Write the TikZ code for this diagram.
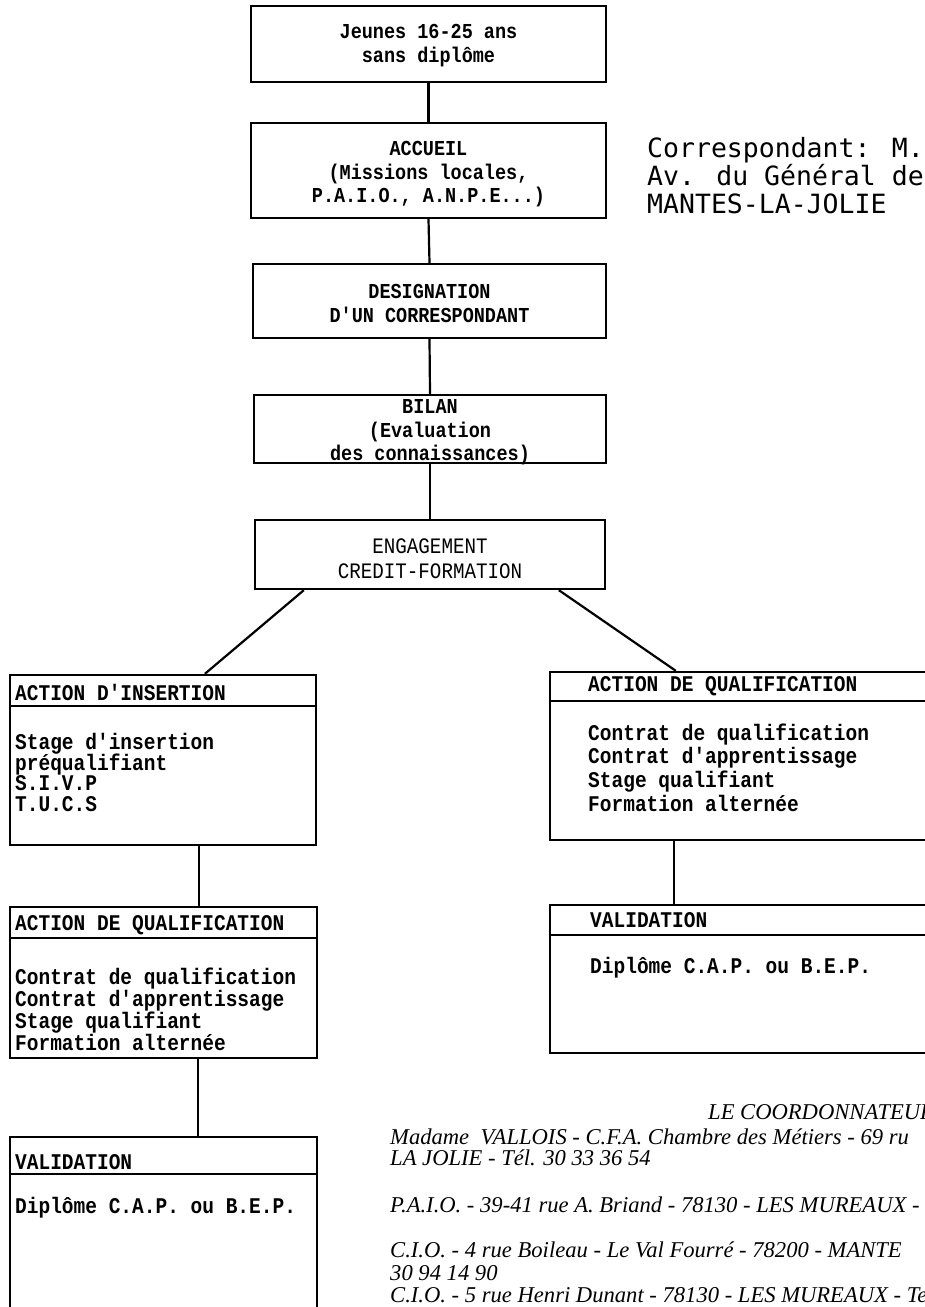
\documentclass[tikz,border=0pt]{standalone}
\usepackage{fontspec}
\usepackage{graphicx}
\usetikzlibrary{calc}
\newfontfamily\boxfont{Liberation Mono}
\newfontfamily\termfont{DejaVu Sans Mono}
\newfontfamily\addrfont{Liberation Serif}
\newcommand\st[1]{\scalebox{1}[1.15]{#1}}
\AtBeginDocument{\lineskiplimit=-100pt\relax}
\begin{document}
\begin{tikzpicture}[x=1pt,y=1pt,
  box/.style={draw=black, line width=2.3pt, inner sep=0pt, rectangle},
  conn/.style={line width=2.2pt},
  sepline/.style={line width=2pt},
  toptext/.style={align=center, inner sep=0pt, font=\boxfont\bfseries\fontsize{18.5}{23.5}\selectfont},
  engtext/.style={align=center, inner sep=0pt, font=\boxfont\fontsize{19.2}{25}\selectfont},
  headtext/.style={anchor=west, inner sep=0pt, font=\boxfont\bfseries\fontsize{19.5}{20}\selectfont},
  listtext/.style={align=left, anchor=west, inner sep=0pt, font=\boxfont\bfseries\fontsize{19.5}{#1}\selectfont},
  termtext/.style={align=left, anchor=west, inner sep=0pt, font=\termfont\fontsize{26.5}{28}\selectfont},
  addrtext/.style={anchor=west, inner sep=0pt, font=\addrfont\itshape\fontsize{22.6}{22}\selectfont}
]
\useasboundingbox (0,0) rectangle (925,-1307);
\clip (0,0) rectangle (925,-1307);
\fill[white] (0,0) rectangle (925,-1307);

% top column boxes
\node[box, minimum width=355pt, minimum height=76pt] (b1) at (428.5,-44) {};
\node[toptext] (t1) at (428.5,-45.5) {\st{Jeunes 16-25 ans}\\\st{sans diplôme}};

\node[box, minimum width=355pt, minimum height=95pt] (b2) at (428.5,-170.5) {};
\node[toptext] (t2) at (428.5,-174.5) {\st{ACCUEIL}\\\st{(Missions locales,}\\\st{P.A.I.O., A.N.P.E...)}};

\node[box, minimum width=353pt, minimum height=74pt] (b3) at (429.5,-301) {};
\node[toptext] (t3) at (429.5,-303.5) {\st{DESIGNATION}\\\st{D'UN CORRESPONDANT}};

\node[box, minimum width=352pt, minimum height=68pt] (b4) at (430,-429) {};
\node[toptext] (t4) at (430,-432.5) {\st{BILAN}\\\st{(Evaluation}\\\st{des connaissances)}};

\node[box, minimum width=350pt, minimum height=69pt] (b5) at (430,-554.5) {};
\node[engtext] (t5) at (430,-558.5) {\st{ENGAGEMENT}\\\st{CREDIT-FORMATION}};

\draw[conn] (b1.south) -- (b2.north);
\draw[conn] (b2.south) -- (b3.north);
\draw[conn] (b3.south) -- (b4.north);
\draw[conn] (b4.south) -- (b5.north);

% correspondant text
\node[termtext] (corr) at (647,-176) {Correspondant: M.\\Av. du Général de\\MANTES-LA-JOLIE};

% left column
\node[box, minimum width=306pt, minimum height=170pt] (L1) at (163,-760) {};
\draw[sepline] ($(L1.north west)+(0,-32)$) -- ($(L1.north east)+(0,-32)$);
\node[headtext] (L1h) at (15,-692) {\st{ACTION D'INSERTION}};
\node[listtext=20.4] (L1i) at (15,-772.5) {\st{Stage d'insertion}\\\st{préqualifiant}\\\st{S.I.V.P}\\\st{T.U.C.S}};

\node[box, minimum width=307pt, minimum height=151pt] (L2) at (163.5,-982.5) {};
\draw[sepline] ($(L2.north west)+(0,-32)$) -- ($(L2.north east)+(0,-32)$);
\node[headtext] (L2h) at (15,-925) {\st{ACTION DE QUALIFICATION}};
\node[listtext=22] (L2i) at (15,-1009.5) {\st{Contrat de qualification}\\\st{Contrat d'apprentissage}\\\st{Stage qualifiant}\\\st{Formation alternée}};

\node[box, minimum width=307pt, minimum height=203pt] (L3) at (163.5,-1238.5) {};
\draw[sepline] ($(L3.north west)+(0,-38)$) -- ($(L3.north east)+(0,-38)$);
\node[headtext] (L3h) at (15,-1162) {\st{VALIDATION}};
\node[headtext] (L3i) at (15,-1208) {\st{Diplôme C.A.P. ou B.E.P.}};

\draw[conn] ($(L1.south west)+(190,0)$) -- ($(L2.north west)+(190,0)$);
\draw[conn] ($(L2.south west)+(189,0)$) -- ($(L3.north west)+(189,0)$);

% right column
\node[box, minimum width=410pt, minimum height=168pt] (R1) at (755,-756) {};
\draw[sepline] ($(R1.north west)+(0,-30)$) -- ($(R1.north east)+(0,-30)$);
\node[headtext] (R1h) at (588,-686) {\st{ACTION DE QUALIFICATION}};
\node[listtext=23.6] (R1i) at (588,-767.5) {\st{Contrat de qualification}\\\st{Contrat d'apprentissage}\\\st{Stage qualifiant}\\\st{Formation alternée}};

\node[box, minimum width=410pt, minimum height=148pt] (R2) at (755,-979) {};
\draw[sepline] ($(R2.north west)+(0,-31)$) -- ($(R2.north east)+(0,-31)$);
\node[headtext] (R2h) at (590,-920) {\st{VALIDATION}};
\node[headtext] (R2i) at (590,-968) {\st{Diplôme C.A.P. ou B.E.P.}};

\draw[conn] ($(R1.south west)+(125,0)$) -- ($(R2.north west)+(125,0)$);

% branches
\draw[conn] ($(b5.south west)+(50,0)$) -- ($(L1.north west)+(196,0)$);
\draw[conn] ($(b5.south west)+(305,0)$) -- ($(R1.north west)+(127,0)$);

% addresses
\node[addrtext] (a0) at (708,-1112) {LE COORDONNATEUR};
\node[addrtext] (a1) at (390,-1137) {Madame \ VALLOIS - C.F.A. Chambre des Métiers - 69 ru};
\node[addrtext] (a2) at (390,-1158) {LA JOLIE - Tél. 30 33 36 54};
\node[addrtext] (a3) at (390,-1205) {P.A.I.O. - 39-41 rue A. Briand - 78130 - LES MUREAUX -};
\node[addrtext] (a4) at (390,-1250) {C.I.O. - 4 rue Boileau - Le Val Fourré - 78200 - MANTE};
\node[addrtext] (a5) at (390,-1273) {30 94 14 90};
\node[addrtext] (a6) at (390,-1295) {C.I.O. - 5 rue Henri Dunant - 78130 - LES MUREAUX - Te};
\end{tikzpicture}
\end{document}
